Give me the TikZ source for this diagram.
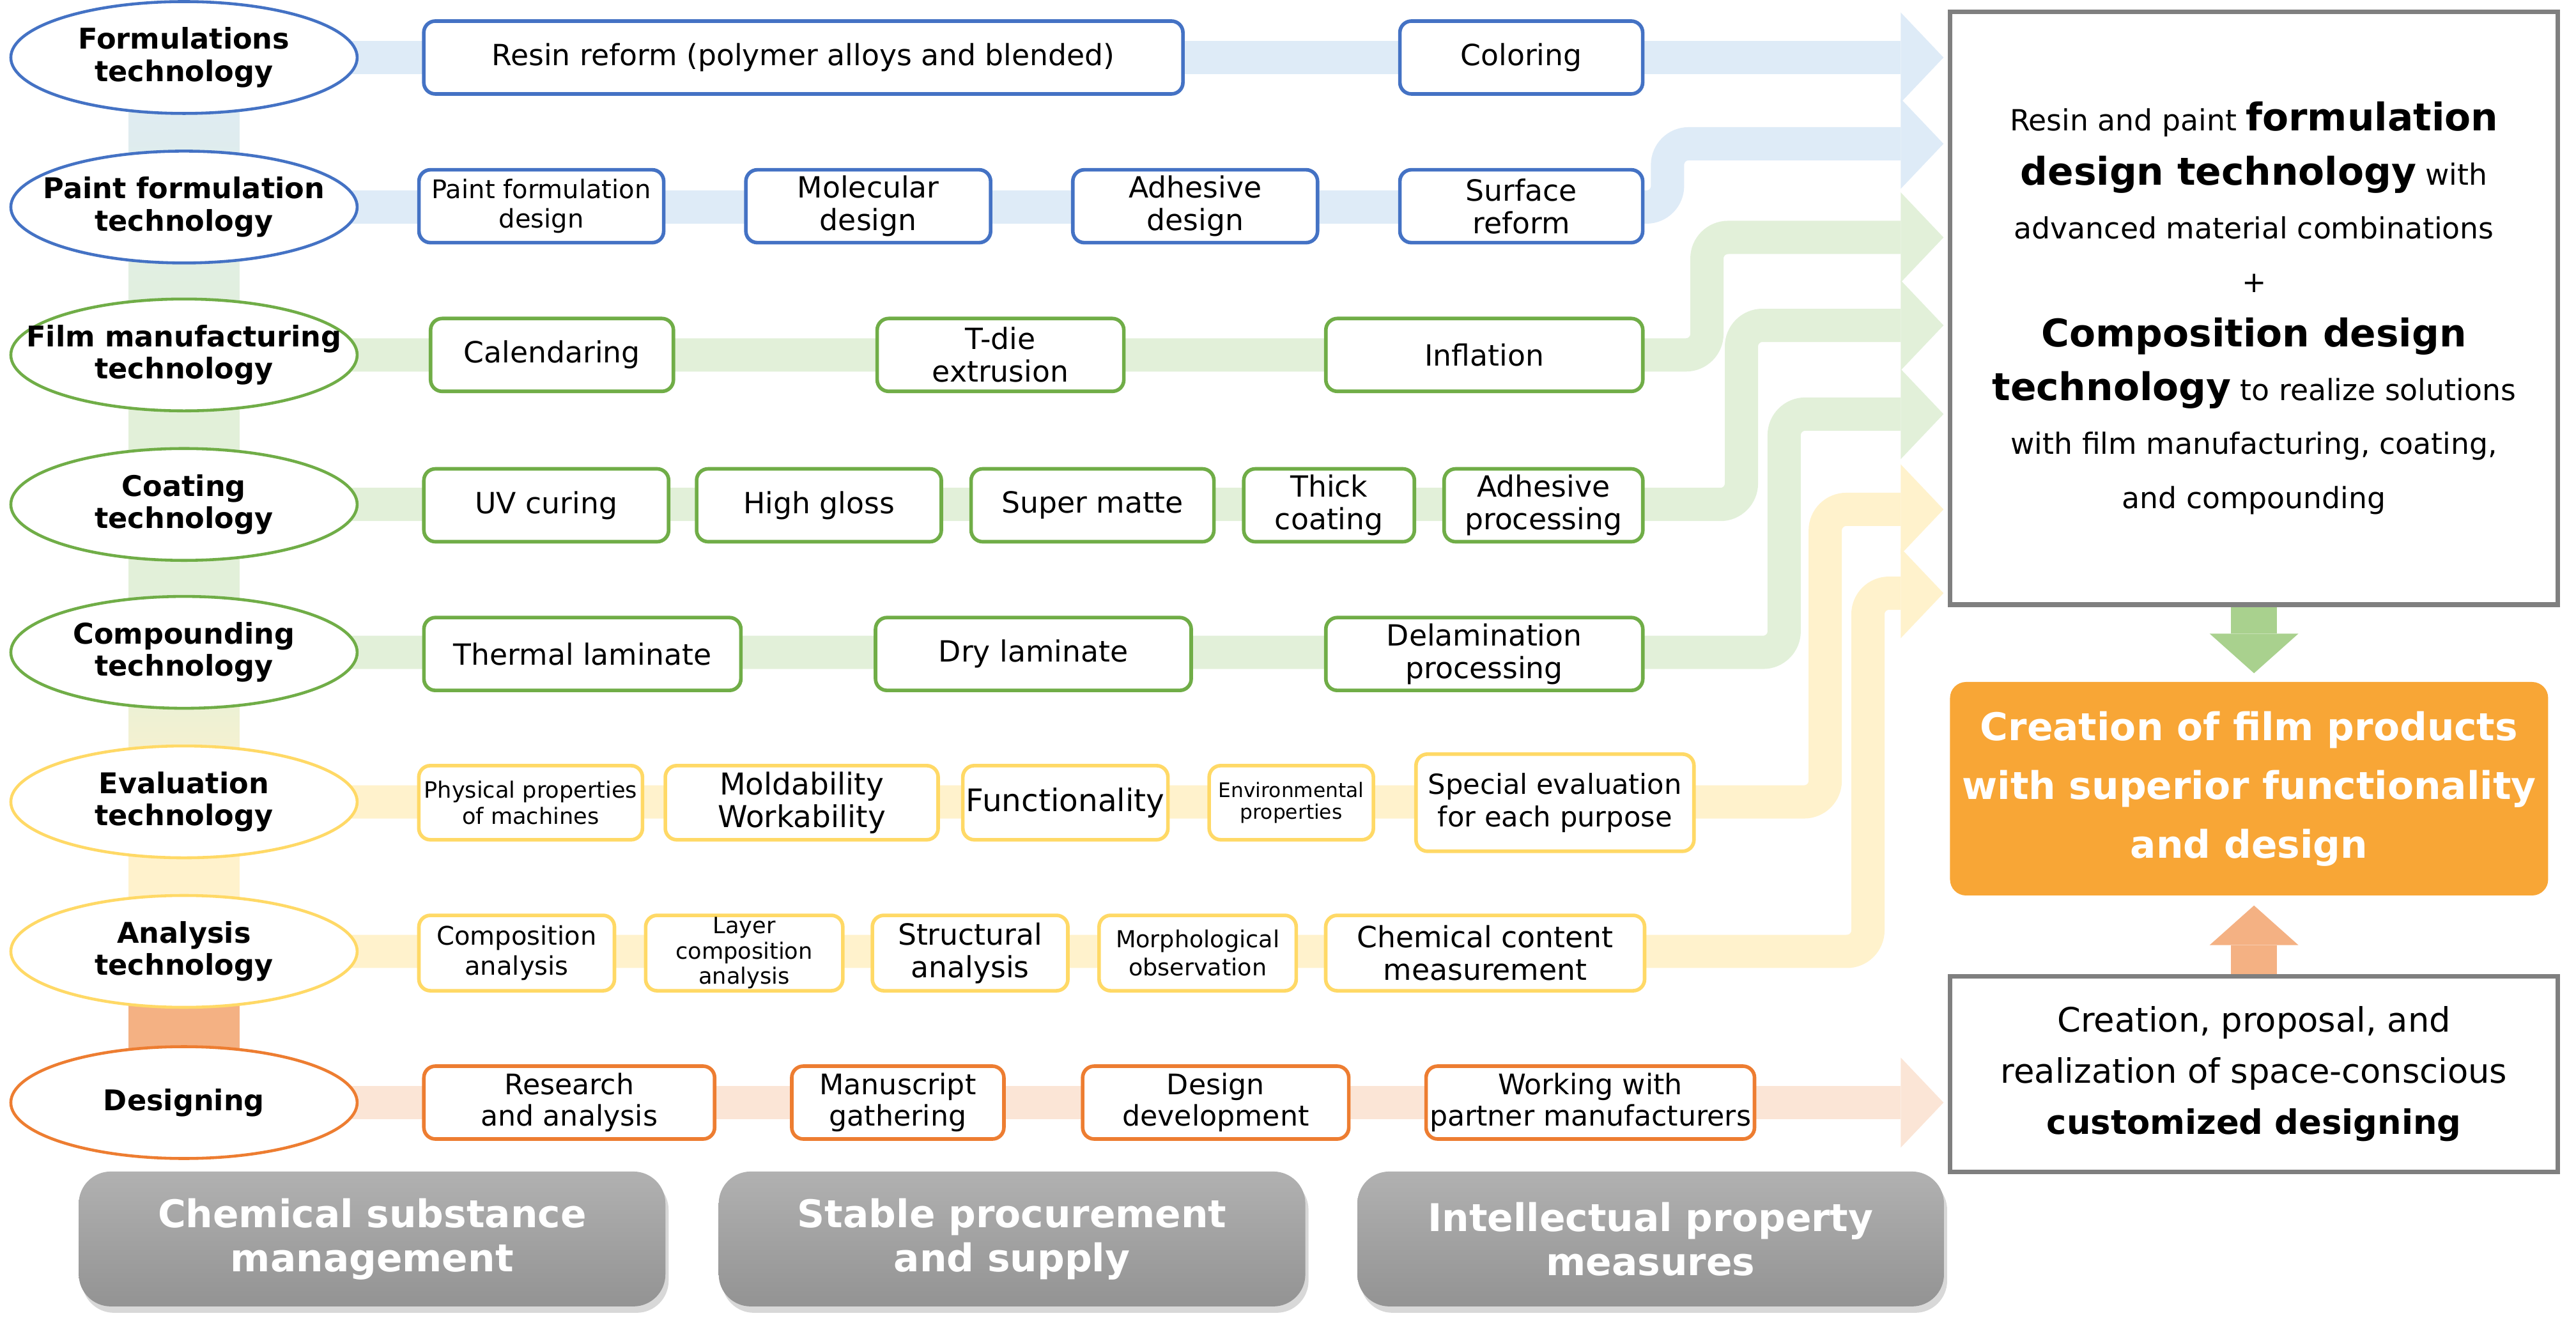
\documentclass[tikz,border=0pt]{standalone}
\usepackage{fontspec}
\setmainfont{DejaVu Sans}
\usepackage{xcolor}
\usetikzlibrary{positioning, arrows.meta, calc, shapes.geometric, backgrounds, shadows}
\pgfdeclarelayer{canvas}
\pgfsetlayers{canvas,background,main}
\definecolor{blueLine}{HTML}{4472C4}
\definecolor{blueBar}{HTML}{DEEBF7}
\definecolor{greenLine}{HTML}{70AD47}
\definecolor{greenBar}{HTML}{E2F0D9}
\definecolor{yellowLine}{HTML}{FFD966}
\definecolor{yellowBar}{HTML}{FFF2CC}
\definecolor{orangeLine}{HTML}{ED7D31}
\definecolor{orangeBar}{HTML}{FBE5D6}
\definecolor{orangeStrip}{HTML}{F4B183}
\definecolor{greenArrow}{HTML}{A9D18E}
\definecolor{goalOrange}{HTML}{F8A636}
\definecolor{frameGray}{HTML}{7F7F7F}
\definecolor{grayTop}{HTML}{B1B1B1}
\definecolor{grayBottom}{HTML}{939393}
\newcommand{\keyterm}[1]{{\fontsize{17}{24}\selectfont\bfseries #1}}

\begin{document}
\begin{tikzpicture}[x=0.2571mm, y=-0.2571mm]
    \tikzset{techbox/.style={ellipse,draw=#1,line width=1.3pt,fill=white,minimum width=5.42cm,minimum height=1.75cm,inner sep=0pt,align=center,font=\fontsize{12.7}{14.3}\selectfont\bfseries}, itembox/.style={draw=#1,line width=1.6pt,fill=white,rounded corners=0.18cm,inner sep=0pt,minimum height=1.14cm,align=center,font=\fontsize{13}{14.6}\selectfont}, flowbar/.style={draw=#1,line width=0.52cm,rounded corners=0.33cm,-{Triangle[width=1.41cm,length=0.67cm,line width=0pt]}}, goalbox/.style={draw=frameGray,line width=2pt,fill=white,minimum width=9.51cm,inner sep=0pt,align=center}, basebox/.style={rounded corners=0.5cm,top color=grayTop,bottom color=grayBottom,drop shadow={shadow xshift=0.05cm,shadow yshift=-0.1cm,opacity=0.3},text=white,minimum width=9.18cm,minimum height=2.11cm,align=center,font=\fontsize{17}{19.7}\selectfont\bfseries}, stemarr/.style={draw=#1,line width=0.72cm,-{Triangle[width=1.39cm,length=0.62cm,line width=0pt]}}}
    \useasboundingbox (0,0) rectangle (1568,806);
    \begin{pgfonlayer}{canvas}\fill[white] (0,0) rectangle (1568,806);\end{pgfonlayer}
    \node[techbox=blueLine] (formtech) at (112,35) {Formulations\\technology};
    \node[techbox=blueLine] (painttech) at (112,126) {\makebox[0pt]{Paint formulation}\\technology};
    \node[techbox=greenLine] (filmtech) at (112,216) {\makebox[0pt]{Film manufacturing}\\technology};
    \node[techbox=greenLine] (coattech) at (112,307) {Coating\\technology};
    \node[techbox=greenLine] (comptech) at (112,397) {Compounding\\technology};
    \node[techbox=yellowLine] (evaltech) at (112,488) {Evaluation\\technology};
    \node[techbox=yellowLine] (anatech) at (112,579) {Analysis\\technology};
    \node[techbox=orangeLine] (designtech) at (112,671) {Designing};
    \node[itembox=blueLine,minimum width=11.88cm] (resin) at (489,35) {Resin reform (polymer alloys and blended)};
    \node[itembox=blueLine,minimum width=3.8cm] (coloring) at (926,35) {Coloring};
    \node[itembox=blueLine,minimum width=3.83cm,font=\fontsize{11.4}{13.1}\selectfont] (paintdes) at (329.5,125.5) {Paint formulation\\design};
    \node[itembox=blueLine,minimum width=3.83cm] (moldes) at (528.5,125.5) {Molecular\\design};
    \node[itembox=blueLine,minimum width=3.83cm] (adhdes) at (727.5,125.5) {Adhesive\\design};
    \node[itembox=blueLine,minimum width=3.8cm] (surface) at (926,125.5) {Surface\\reform};
    \node[itembox=greenLine,minimum width=3.8cm] (calend) at (336,216) {Calendaring};
    \node[itembox=greenLine,minimum width=3.86cm] (tdie) at (609,216) {T-die\\extrusion};
    \node[itembox=greenLine,minimum width=4.96cm] (inflation) at (903.5,216) {Inflation};
    \node[itembox=greenLine,minimum width=3.83cm] (uvcure) at (332.5,307.5) {UV curing};
    \node[itembox=greenLine,minimum width=3.83cm] (gloss) at (498.5,307.5) {High gloss};
    \node[itembox=greenLine,minimum width=3.8cm] (matte) at (665,307.5) {Super matte};
    \node[itembox=greenLine,minimum width=2.67cm] (thick) at (809,307.5) {Thick\\coating};
    \node[itembox=greenLine,minimum width=3.11cm] (adhproc) at (939.5,307.5) {Adhesive\\processing};
    \node[itembox=greenLine,minimum width=4.96cm] (thermal) at (354.5,398) {Thermal laminate};
    \node[itembox=greenLine,minimum width=4.94cm] (drylam) at (629,398) {Dry laminate};
    \node[itembox=greenLine,minimum width=4.96cm] (delam) at (903.5,398) {Delamination\\processing};
    \node[itembox=yellowLine,minimum width=3.5cm,minimum height=1.16cm,font=\fontsize{10}{11.8}\selectfont] (phys) at (323,488.5) {Physical properties\\of machines};
    \node[itembox=yellowLine,minimum width=4.27cm,minimum height=1.16cm,font=\fontsize{13.4}{14.6}\selectfont] (mold) at (488,488.5) {Moldability\\Workability};
    \node[itembox=yellowLine,minimum width=3.21cm,minimum height=1.16cm,font=\fontsize{13.8}{16}\selectfont] (func) at (648.5,488.5) {Functionality};
    \node[itembox=yellowLine,minimum width=2.57cm,minimum height=1.16cm,font=\fontsize{8.9}{9.5}\selectfont] (envprop) at (786,488.5) {Environmental\\properties};
    \node[itembox=yellowLine,minimum width=4.35cm,minimum height=1.52cm,font=\fontsize{12.3}{14.6}\selectfont] (special) at (946.5,488.5) {Special evaluation\\for each purpose};
    \node[itembox=yellowLine,minimum width=3.06cm,minimum height=1.18cm,font=\fontsize{11.4}{13.2}\selectfont] (compan) at (314.5,580) {Composition\\analysis};
    \node[itembox=yellowLine,minimum width=3.085cm,minimum height=1.18cm,font=\fontsize{10}{11.3}\selectfont] (layer) at (453,580) {Layer\\composition\\analysis};
    \node[itembox=yellowLine,minimum width=3.06cm,minimum height=1.18cm] (struct) at (590.5,580) {Structural\\analysis};
    \node[itembox=yellowLine,minimum width=3.085cm,minimum height=1.18cm,font=\fontsize{10.4}{12.4}\selectfont] (morph) at (729,580) {Morphological\\observation};
    \node[itembox=yellowLine,minimum width=4.99cm,minimum height=1.18cm] (chem) at (904,580) {Chemical content\\measurement};
    \node[itembox=orangeLine,minimum width=4.55cm,font=\fontsize{12.6}{13.9}\selectfont] (research) at (346.5,671) {Research\\and analysis};
    \node[itembox=orangeLine,minimum width=3.32cm,font=\fontsize{12.6}{13.9}\selectfont] (manus) at (546.5,671) {Manuscript\\gathering};
    \node[itembox=orangeLine,minimum width=4.165cm,font=\fontsize{12.6}{13.9}\selectfont] (devel) at (740,671) {Design\\development};
    \node[itembox=orangeLine,minimum width=5.14cm,font=\fontsize{12.6}{13.9}\selectfont] (partner) at (968,671) {Working with\\partner manufacturers};
    \node[goalbox,minimum height=9.28cm,font=\fontsize{13}{24}\selectfont] (goal1) at (1372,187.5) {Resin and paint \keyterm{formulation}\\\keyterm{design technology} with\\advanced material combinations\\+\\\keyterm{Composition design}\\\keyterm{technology} to realize solutions\\with film manufacturing, coating,\\and compounding};
    \node[fill=goalOrange,rounded corners=0.25cm,minimum width=9.36cm,minimum height=3.34cm,inner sep=0pt,align=center,text=white,font=\fontsize{17}{26.2}\selectfont\bfseries] (product) at (1369,480) {Creation of film products\\with superior functionality\\and design};
    \node[goalbox,minimum height=3.06cm,font=\fontsize{15}{22.7}\selectfont] (goal2) at (1372,653.5) {Creation, proposal, and\\realization of space-conscious\\\textbf{customized designing}};
    \node[basebox] (chemmgmt) at (226.5,754) {Chemical substance\\management};
    \node[basebox,right=0.82cm of chemmgmt] (procure) {Stable procurement\\and supply};
    \node[basebox,right=0.8cm of procure] (ipmeasure) {Intellectual property\\measures};
    \coordinate (tip1) at (1183,35); \coordinate (turn2) at (1015,87.5); \coordinate (tip2) at (1183,87.5);
    \coordinate (turn3) at (1039,144.5); \coordinate (tip3) at (1183,144.5); \coordinate (turn4) at (1060,198); \coordinate (tip4) at (1183,198);
    \coordinate (turn5) at (1086,252); \coordinate (tip5) at (1183,252); \coordinate (turn6) at (1111,310); \coordinate (tip6) at (1183,310);
    \coordinate (turn7) at (1137,361); \coordinate (tip7) at (1183,361); \coordinate (tip8) at (1183,671);
    \draw[stemarr=greenArrow,shorten >=0.13cm] (goal1.south) -- (goal1.south |- product.north);
    \draw[stemarr=orangeStrip,shorten >=0.15cm] (goal2.north) -- (goal2.north |- product.south);
    \begin{scope}[on background layer]
      \shade[top color=blueBar,bottom color=greenBar] ($(formtech.center)+(-33.8,0)$) rectangle ($(filmtech.center)+(33.8,0)$);
      \fill[greenBar] ($(filmtech.center)+(-33.8,0)$) rectangle ($(comptech.center)+(33.8,0)$);
      \shade[top color=greenBar,bottom color=yellowBar] ($(comptech.center)+(-33.8,0)$) rectangle ($(evaltech.center)+(33.8,0)$);
      \fill[yellowBar] ($(evaltech.center)+(-33.8,0)$) rectangle ($(anatech.center)+(33.8,0)$);
      \fill[orangeStrip] ($(anatech.center)+(-33.8,0)$) rectangle ($(designtech.center)+(33.8,0)$);
      \draw[flowbar=blueBar] (formtech.center)--(tip1); \draw[flowbar=blueBar] (painttech.center) -| (turn2) -- (tip2);
      \draw[flowbar=greenBar] (filmtech.center) -| (turn3) -- (tip3); \draw[flowbar=greenBar] (coattech.center) -| (turn4) -- (tip4); \draw[flowbar=greenBar] (comptech.center) -| (turn5) -- (tip5);
      \draw[flowbar=yellowBar] (evaltech.center) -| (turn6) -- (tip6); \draw[flowbar=yellowBar] (anatech.center) -| (turn7) -- (tip7);
      \draw[flowbar=orangeBar] (designtech.center)--(tip8);
    \end{scope}
  \end{tikzpicture}
\end{document}
